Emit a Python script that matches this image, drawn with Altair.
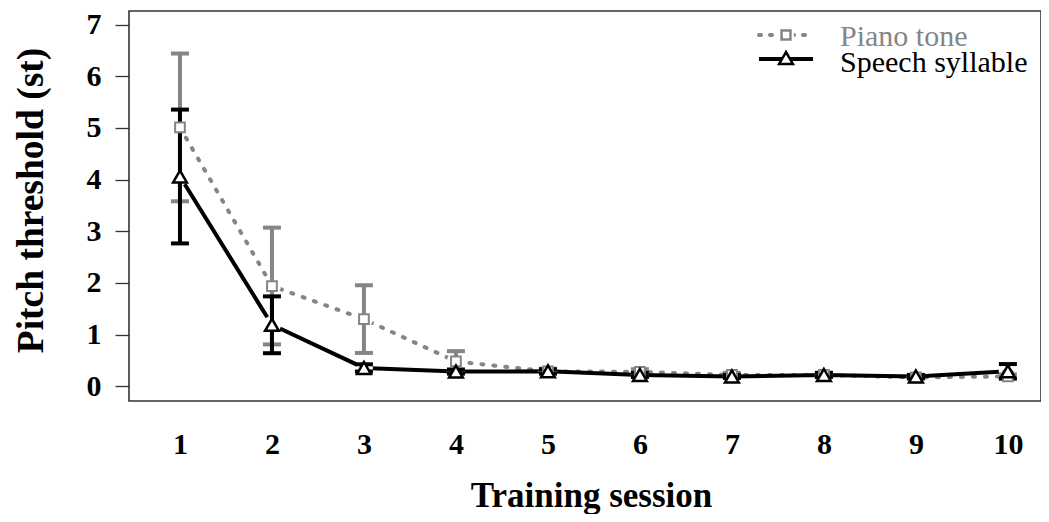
import altair as alt
import pandas as pd

# ---- data ----
sessions = [1, 2, 3, 4, 5, 6, 7, 8, 9, 10]
series_names = ["Piano tone", "Speech syllable"]
piano_mean = [5.01, 1.94, 1.30, 0.48, 0.29, 0.28, 0.22, 0.22, 0.17, 0.19]
piano_err = [1.43, 1.13, 0.655, 0.20, 0.05, 0.05, 0.04, 0.04, 0.03, 0.04]
speech_mean = [4.06, 1.19, 0.355, 0.285, 0.29, 0.22, 0.19, 0.22, 0.19, 0.29]
speech_err = [1.295, 0.55, 0.07, 0.04, 0.04, 0.04, 0.03, 0.04, 0.03, 0.14]
y_ticks = [0, 1, 2, 3, 4, 5, 6, 7]

FONT = "Liberation Serif"
GRAY = "#858585"


def frame(name, mean, err):
    return pd.DataFrame({
        "session": sessions,
        "series": name,
        "mean": mean,
        "lo": [m - e for m, e in zip(mean, err)],
        "hi": [m + e for m, e in zip(mean, err)],
    })


piano = frame(series_names[0], piano_mean, piano_err)
speech = frame(series_names[1], speech_mean, speech_err)
both = pd.concat([piano, speech], ignore_index=True)

xs = alt.Scale(domain=[0.446, 10.36], nice=False, zero=False)
ys = alt.Scale(domain=[-0.285, 7.263], nice=False, zero=False)

X = alt.X("session:Q", scale=xs, axis=alt.Axis(
    values=sessions, format="d", ticks=False, domain=False, grid=False,
    labelFont=FONT, labelFontSize=30, labelFontWeight="bold", labelColor="black",
    labelBaseline="alphabetic", labelPadding=52, labelFlush=False, labelOverlap=False,
    title="Training session", titleFont=FONT, titleFontSize=35, titleFontWeight="bold",
    titleColor="black", titleX=462, titleY=105, titleBaseline="alphabetic", titleAlign="center"))
Y = alt.Y("mean:Q", scale=ys, axis=alt.Axis(
    values=y_ticks, format="d", tickSize=14, tickWidth=1.3, tickColor="#333", domain=False, grid=False,
    labelFont=FONT, labelFontSize=30, labelFontWeight="bold", labelColor="black",
    labelPadding=14, labelFlush=False, labelOverlap=False,
    title="Pitch threshold (st)", titleFont=FONT, titleFontSize=37.5, titleFontWeight="bold",
    titleColor="black", titleAngle=-90, titleX=-98, titleY=189, titleAlign="center",
    titleBaseline="middle"))

base_p = alt.Chart(piano)
base_s = alt.Chart(speech)

line_p = base_p.mark_line(color=GRAY, strokeWidth=4, strokeDash=[2, 10], strokeCap="round").encode(x=X, y=Y)
line_s = base_s.mark_line(color="black", strokeWidth=4, strokeCap="round").encode(x=X, y=Y)

halo = alt.Chart(both).mark_point(shape="circle", filled=True, color="white", opacity=1, size=330).encode(
    x=alt.X("session:Q", scale=xs), y=alt.Y("mean:Q", scale=ys))


def errbars(base, color):
    rule = base.mark_rule(color=color, strokeWidth=4).encode(
        x=alt.X("session:Q", scale=xs), y=alt.Y("lo:Q", scale=ys), y2="hi:Q")
    cap_lo = base.mark_tick(color=color, orient="horizontal", size=18, thickness=4, opacity=1).encode(
        x=alt.X("session:Q", scale=xs), y=alt.Y("lo:Q", scale=ys))
    cap_hi = base.mark_tick(color=color, orient="horizontal", size=18, thickness=4, opacity=1).encode(
        x=alt.X("session:Q", scale=xs), y=alt.Y("hi:Q", scale=ys))
    return rule + cap_lo + cap_hi


err_p = errbars(base_p, GRAY)
err_s = errbars(base_s, "black")

pts_p = base_p.mark_point(shape="square", filled=False, fill="white", fillOpacity=1, stroke=GRAY,
                          strokeWidth=2, size=95, opacity=1).encode(
    x=alt.X("session:Q", scale=xs), y=alt.Y("mean:Q", scale=ys))
pts_s = base_s.mark_point(shape="triangle-up", filled=False, fill="white", fillOpacity=1, stroke="black",
                          strokeWidth=2.5, size=190, opacity=1).encode(
    x=alt.X("session:Q", scale=xs), y=alt.Y("mean:Q", scale=ys))

# ---- manual legend (top right inside the plot) ----
leg_p = alt.Chart(pd.DataFrame({"series": [series_names[0]]}))
leg_s = alt.Chart(pd.DataFrame({"series": [series_names[1]]}))

lg_line_p = leg_p.mark_rule(color=GRAY, strokeWidth=4, strokeDash=[2, 9], strokeCap="round").encode(
    x=alt.value(630), x2=alt.value(684), y=alt.value(24))
lg_halo_p = leg_p.mark_point(shape="circle", filled=True, color="white", opacity=1, size=260).encode(
    x=alt.value(657), y=alt.value(24))
lg_pt_p = leg_p.mark_point(shape="square", filled=False, fill="white", fillOpacity=1, stroke=GRAY,
                           strokeWidth=2.5, size=80, opacity=1).encode(x=alt.value(657), y=alt.value(24))
lg_txt_p = leg_p.mark_text(align="left", baseline="alphabetic", font=FONT, fontWeight="normal",
                           fontSize=30, color=GRAY).encode(
    x=alt.value(711), y=alt.value(35), text="series:N")

lg_line_s = leg_s.mark_rule(color="black", strokeWidth=4).encode(
    x=alt.value(630), x2=alt.value(684), y=alt.value(48))
lg_pt_s = leg_s.mark_point(shape="triangle-up", filled=False, fill="white", fillOpacity=1, stroke="black",
                           strokeWidth=2.5, size=190, opacity=1).encode(x=alt.value(657), y=alt.value(47))
lg_txt_s = leg_s.mark_text(align="left", baseline="alphabetic", font=FONT, fontWeight="normal",
                           fontSize=30, color="black").encode(
    x=alt.value(711), y=alt.value(61), text="series:N")

chart = alt.layer(
    line_p, line_s, halo, err_p, err_s, pts_p, pts_s,
    lg_line_p, lg_halo_p, lg_pt_p, lg_txt_p, lg_line_s, lg_pt_s, lg_txt_s,
).properties(
    width=912, height=390,
    autosize=alt.AutoSizeParams(type="none"),
    padding={"left": 121, "top": 3, "right": 0, "bottom": 113},
).configure(
    background="white", font=FONT
).configure_view(
    stroke="#333", strokeWidth=1.6
).configure_text(font=FONT)

chart.save("out.html", embed_options={"renderer": "svg", "actions": False})
